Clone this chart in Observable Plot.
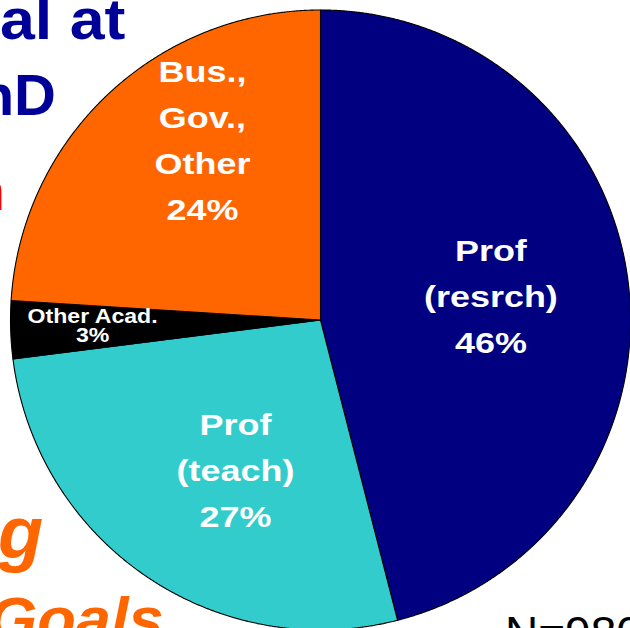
<!DOCTYPE html>
<html>
<head>
<meta charset="utf-8">
<script src="https://cdn.jsdelivr.net/npm/d3@7"></script>
<script src="https://cdn.jsdelivr.net/npm/@observablehq/plot@0.6"></script>
<style>
  html, body { margin: 0; padding: 0; background: #fff; overflow: hidden; }
  #wrap { position: relative; width: 630px; height: 628px; }
  #overlay { position: absolute; left: 0; top: 0; pointer-events: none; }
</style>
</head>
<body>
<div id="wrap"></div>
<script>
// ---- data ----
const categories = ["Prof\n(resrch)", "Prof\n(teach)", "Other Acad.", "Bus.,\nGov.,\nOther"];
const values = [46, 27, 3, 24];
const colors = ["#000080", "#33CCCC", "#000000", "#FF6600"];

// ---- layout (label placement, polar: angle in degrees clockwise from top, radius fraction) ----
const labelAngle = [82.3, 209.5, 268.5, 326.5];
const labelRadius = [0.553, 0.56, 0.737, 0.693];

// ---- build slices ----
const arcs = d3.pie().sort(null).startAngle(0).endAngle(2 * Math.PI)(values);
const slicePts = [];
arcs.forEach((a, i) => {
  const n = Math.max(2, Math.ceil((a.endAngle - a.startAngle) / 0.004) + 1);
  for (let k = 0; k < n; k++) {
    const t = a.startAngle + (a.endAngle - a.startAngle) * k / (n - 1);
    slicePts.push({name: categories[i], x: Math.sin(t), y: Math.cos(t)});
  }
});
const labels = categories.map((c, i) => {
  const t = labelAngle[i] * Math.PI / 180;
  return {
    name: c,
    text: c + "\n" + values[i] + "%",
    x: labelRadius[i] * Math.sin(t),
    y: labelRadius[i] * Math.cos(t),
    small: values[i] < 5
  };
});

const font = "Liberation Sans, Arial, Helvetica, sans-serif";
const chart = Plot.plot({
  width: 630,
  height: 628,
  x: {domain: [-1, 1], range: [10.5, 630.5], axis: null},
  y: {domain: [-1, 1], range: [630, 10], axis: null},
  color: {domain: categories, range: colors},
  style: {background: "white", fontFamily: font, overflow: "visible"},
  marks: [
    Plot.area(slicePts, {x1: "x", y1: "y", x2: 0, y2: 0, z: "name", fill: "name",
      stroke: "black", strokeWidth: 1.1, strokeLinejoin: "round", curve: "linear"}),
    Plot.text(labels.filter(d => !d.small), {x: "x", y: "y", text: "text", dy: -5,
      fill: "white", fontSize: 29, fontWeight: "bold", lineHeight: 1.58, fontFamily: font}),
    Plot.text(labels.filter(d => d.small), {x: "x", y: "y", text: "text",
      fill: "white", fontSize: 21, fontWeight: "bold", lineHeight: 0.92, fontFamily: font})
  ]
});
const wrap = document.getElementById("wrap");
wrap.appendChild(chart);

// widen the slice labels horizontally as in the reference lettering
const textGroups = chart.querySelectorAll('g[aria-label="text"]');
const stretch = [1.24, 1.1];
textGroups.forEach((g, gi) => {
  g.querySelectorAll("text").forEach(t => {
    const tr = t.getAttribute("transform") || "";
    t.setAttribute("transform", tr + ` scale(${stretch[gi] || 1},1)`);
  });
});

// ---- slide text fragments around the chart (clipped by the window) ----
const frags = [
  {t: "al at", x: 0, y: 39, size: 58, weight: "bold", style: "normal", fill: "#000099", anchor: "start", sx: 1.08},
  {t: "PhD", x: 56, y: 115, size: 58, weight: "bold", style: "normal", fill: "#000099", anchor: "end", sx: 1},
  {t: "n", x: 5, y: 210, size: 58, weight: "bold", style: "normal", fill: "#FF0000", anchor: "end", sx: 1},
  {t: "g", x: -2, y: 558, size: 74, weight: "bold", style: "italic", fill: "#FF6600", anchor: "start", sx: 1},
  {t: "Goals", x: -12, y: 640, size: 62, weight: "bold", style: "italic", fill: "#FF6600", anchor: "start", sx: 1.02},
  {t: "N=980", x: 505, y: 649, size: 46, weight: "normal", style: "normal", fill: "#000000", anchor: "start", sx: 1}
];
const ov = d3.select(wrap).append("svg").attr("id", "overlay").attr("width", 630).attr("height", 628);
ov.selectAll("text").data(frags).join("text")
  .attr("transform", d => `translate(${d.x},${d.y}) scale(${d.sx},1)`)
  .attr("text-anchor", d => d.anchor)
  .attr("font-family", font)
  .attr("font-size", d => d.size)
  .attr("font-weight", d => d.weight)
  .attr("font-style", d => d.style)
  .attr("fill", d => d.fill)
  .text(d => d.t);
</script>
</body>
</html>
